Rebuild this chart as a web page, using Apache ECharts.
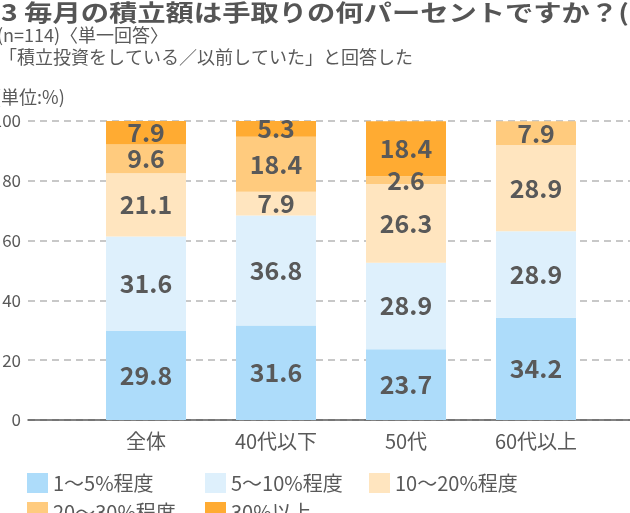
<!DOCTYPE html>
<html>
<head>
<meta charset="utf-8">
<script src="https://cdn.jsdelivr.net/npm/echarts@6/dist/echarts.min.js"></script>
<style>
html,body{margin:0;padding:0;background:#fff;overflow:hidden;}
#c{width:630px;height:513px;}
</style>
</head>
<body>
<div id="c"></div>
<script>
const categories = ['全体', '40代以下', '50代', '60代以上'];
const seriesNames = ['1〜5%程度', '5〜10%程度', '10〜20%程度', '20〜30%程度', '30%以上'];
const v1to5 = [29.8, 31.6, 23.7, 34.2];
const v5to10 = [31.6, 36.8, 28.9, 28.9];
const v10to20 = [21.1, 7.9, 26.3, 28.9];
const v20to30 = [9.6, 18.4, 2.6, 7.9];
const v30plus = [7.9, 5.3, 18.4, 0];
const seriesValues = [v1to5, v5to10, v10to20, v20to30, v30plus];
const colors = ['#ADDCFA', '#DEF0FC', '#FFE5BF', '#FFCB7E', '#FFAB32'];
const yMin = 0, yMax = 100, yStep = 20;

const FONT = '"Noto Sans CJK JP", "Noto Sans", sans-serif';
const TXT = '#595959';

const chart = echarts.init(document.getElementById('c'), null, {renderer: 'canvas'});

const legendBase = {
  orient: 'vertical', top: 473, height: 120, padding: 0, itemWidth: 21, itemHeight: 20, itemGap: 9,
  icon: 'rect', selectedMode: false,
  textStyle: {fontFamily: FONT, fontSize: 20, color: TXT}
};

const option = {
  animation: false,
  textStyle: {fontFamily: FONT},
  graphic: [
    {type: 'text', x: 1, y: 12, scaleX: 1.23, silent: true,
     style: {text: '3 毎月の積立額は手取りの何パーセントですか？(', font: 'bold 23px ' + FONT, fill: '#555', verticalAlign: 'middle'}},
    {type: 'text', x: -3, y: 35, silent: true,
     style: {text: '(n=114)〈単一回答〉', font: '18px ' + FONT, fill: TXT, verticalAlign: 'middle'}},
    {type: 'text', x: -19, y: 57, silent: true,
     style: {text: '※「積立投資をしている／以前していた」と回答した', font: '18px ' + FONT, fill: TXT, verticalAlign: 'middle'}},
    {type: 'text', x: -5, y: 97, silent: true,
     style: {text: '(単位:%)', font: '18px ' + FONT, fill: TXT, verticalAlign: 'middle'}}
  ],
  legend: [
    Object.assign({left: 27, data: [seriesNames[0], seriesNames[3]]}, legendBase),
    Object.assign({left: 205, data: [seriesNames[1], seriesNames[4]]}, legendBase),
    Object.assign({left: 369, data: [seriesNames[2]]}, legendBase)
  ],
  grid: [
    {left: 28, right: -40, top: 121, bottom: 93, outerBoundsMode: 'none', containLabel: false},
    {left: 81, width: 520, top: 121, bottom: 93, outerBoundsMode: 'none', containLabel: false}
  ],
  xAxis: [
    {type: 'category', gridIndex: 0, data: categories,
     axisLine: {show: true, lineStyle: {color: TXT, width: 1.5}},
     axisTick: {show: false}, axisLabel: {show: false}, splitLine: {show: false}},
    {type: 'category', gridIndex: 1, data: categories,
     axisLine: {show: false}, axisTick: {show: false},
     axisLabel: {fontFamily: FONT, fontSize: 20, color: TXT, margin: 11}}
  ],
  yAxis: [
    {type: 'value', gridIndex: 0, min: yMin, max: yMax, interval: yStep,
     axisLine: {show: false}, axisTick: {show: false},
     axisLabel: {fontFamily: FONT, fontSize: 17, color: TXT, margin: 7},
     splitLine: {show: true, lineStyle: {color: '#C8C8C8', width: 2, type: [7, 5]}}},
    {type: 'value', gridIndex: 1, min: yMin, max: yMax, show: false, splitLine: {show: false}}
  ],
  series: seriesNames.map((name, i) => ({
    name: name,
    type: 'bar',
    stack: 'total',
    xAxisIndex: 1,
    yAxisIndex: 1,
    barWidth: 80,
    data: seriesValues[i],
    itemStyle: {color: colors[i]},
    emphasis: {disabled: true},
    label: {
      show: true, position: 'inside',
      fontFamily: FONT, fontSize: 25, fontWeight: 'bold', color: TXT,
      formatter: p => (p.value ? p.value.toFixed(1) : '')
    }
  }))
};

chart.setOption(option);
</script>
</body>
</html>
